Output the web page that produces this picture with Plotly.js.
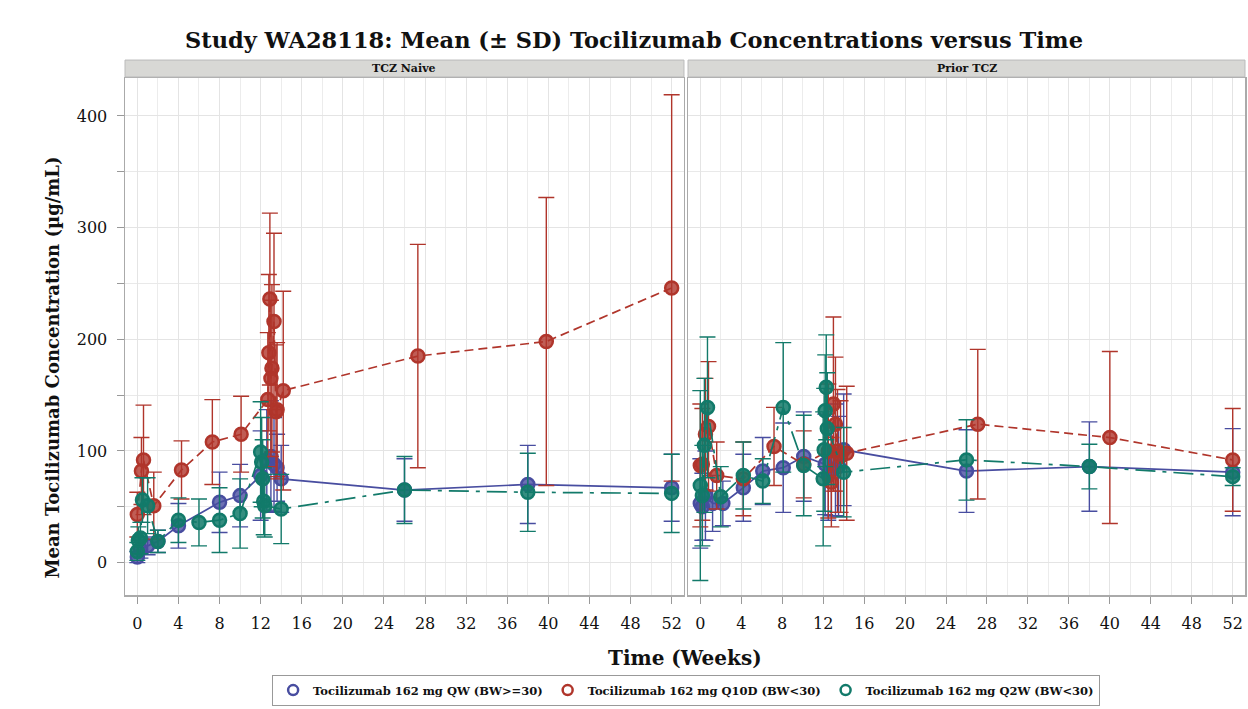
<!DOCTYPE html>
<html><head><meta charset="utf-8">
<script src="https://cdn.plot.ly/plotly-3.0.1.min.js"></script>
<style>html,body{margin:0;padding:0;background:#fff}#chart{width:1248px;height:709px}</style>
</head><body><div id="chart"></div>
<script>
// ---- Data ----
const panelNames = ["TCZ Naive", "Prior TCZ"];
const seriesNames = ["Tocilizumab 162 mg QW (BW>=30)", "Tocilizumab 162 mg Q10D (BW<30)", "Tocilizumab 162 mg Q2W (BW<30)"];

// TCZ Naive
const naiveQW_x  = [0, 0.3, 1, 2, 4, 8, 10, 12, 12.6, 13, 13.3, 13.6, 14, 26, 38, 52];
const naiveQW_y  = [5, 12, 15, 19, 33, 54, 60, 78, 92, 95, 88, 85, 75, 65, 70, 67];
const naiveQW_sd = [5, 8, 8, 10, 20, 27, 28, 40, 45, 50, 42, 30, 30, 28, 35, 30];

const naiveQ10D_x  = [0, 0.4, 0.6, 1.6, 4.3, 7.3, 10.1, 12.7, 12.8, 12.9, 13.0, 13.1, 13.3, 13.5, 13.6, 14.2, 27.3, 39.8, 52];
const naiveQ10D_y  = [43, 82, 92, 51, 83, 108, 115, 146, 188, 236, 165, 174, 216, 135, 137, 154, 185, 198, 246];
const naiveQ10D_sd = [20, 30, 49, 30, 26, 38, 34, 60, 70, 77, 70, 75, 79, 60, 60, 89, 100, 129, 173];

const naiveQ2W_x  = [0, 0.1, 0.3, 0.5, 1, 2, 4, 6, 8, 10, 12, 12.1, 12.2, 12.3, 12.4, 14, 26, 38, 52];
const naiveQ2W_y  = [10, 20, 22, 56, 51, 19, 38, 36, 38, 44, 99, 90, 75, 55, 51, 48, 65, 63, 62];
const naiveQ2W_sd = [8, 12, 14, 20, 25, 10, 20, 21, 29, 31, 45, 40, 35, 30, 28, 31, 30, 35, 35];

// Prior TCZ
const priorQW_x  = [0, 0.2, 0.5, 1.2, 2.2, 4.2, 6.1, 8.1, 10.1, 12.2, 12.5, 12.8, 13.2, 13.5, 14, 26, 38, 52];
const priorQW_y  = [53, 50, 60, 53, 53, 67, 82, 85, 95, 88, 78, 82, 92, 86, 101, 82, 86, 81];
const priorQW_sd = [40, 30, 40, 25, 20, 30, 30, 40, 40, 45, 40, 40, 50, 45, 50, 37, 40, 39];

const priorQ10D_x  = [0, 0.2, 0.5, 0.8, 1.6, 4.2, 7.2, 10.1, 12.5, 12.8, 13.0, 13.2, 13.4, 13.7, 14.3, 27.1, 40, 52];
const priorQ10D_y  = [87, 88, 115, 122, 78, 75, 104, 88, 100, 72, 142, 124, 100, 95, 98, 124, 112, 92];
const priorQ10D_sd = [55, 50, 50, 58, 30, 33, 35, 30, 60, 40, 78, 60, 55, 50, 60, 67, 77, 46];

const priorQ2W_x  = [0, 0.2, 0.4, 0.7, 2, 4.2, 6.1, 8.1, 10.1, 12, 12.1, 12.2, 12.3, 12.4, 14, 26, 38, 52];
const priorQ2W_y  = [69, 60, 105, 139, 59, 78, 73, 139, 87, 75, 101, 136, 157, 120, 81, 92, 86, 77];
const priorQ2W_sd = [85, 45, 60, 63, 27, 30, 20, 58, 45, 60, 55, 50, 47, 50, 40, 36, 20, 8];

const xTicks = [0, 4, 8, 12, 16, 20, 24, 28, 32, 36, 40, 44, 48, 52];
const yTicks = [0, 100, 200, 300, 400];

// ---- Styles ----
const colors = ["#484da0", "#b0352b", "#127a6a"];
const fills  = ["rgba(72,77,160,0.8)", "rgba(176,53,43,0.8)", "rgba(18,122,106,0.85)"];
const dashes = ["solid", "9px,5px", "20px,7px,4px,7px"];
const FONT = "DejaVu Serif";

const panels = [
  {xa: "x", ya: "y", data: [[naiveQW_x, naiveQW_y, naiveQW_sd], [naiveQ10D_x, naiveQ10D_y, naiveQ10D_sd], [naiveQ2W_x, naiveQ2W_y, naiveQ2W_sd]]},
  {xa: "x2", ya: "y2", data: [[priorQW_x, priorQW_y, priorQW_sd], [priorQ10D_x, priorQ10D_y, priorQ10D_sd], [priorQ2W_x, priorQ2W_y, priorQ2W_sd]]}
];

const traces = [];
panels.forEach(p => {
  p.data.forEach((d, i) => {
    traces.push({
      type: "scatter", mode: "lines+markers", xaxis: p.xa, yaxis: p.ya,
      x: d[0], y: d[1], showlegend: false, hoverinfo: "x+y",
      error_y: {type: "data", array: d[2], visible: true, color: colors[i], thickness: 1.4, width: 8},
      line: {color: colors[i], width: 1.7, dash: dashes[i]},
      marker: {symbol: "circle", size: 13, color: fills[i], line: {color: colors[i], width: 2.5}}
    });
  });
});
// legend entries
seriesNames.forEach((n, i) => {
  traces.push({type: "scatter", mode: "markers", x: [null], y: [null], name: "<b>" + n + "</b>", xaxis: "x", yaxis: "y",
    marker: {symbol: "circle-open", size: 10, color: colors[i], line: {width: 2.5}}});
});

const xBase = {
  range: [-1.2, 53.2], tickvals: xTicks, ticktext: xTicks.map(String),
  ticks: "outside", ticklen: 7, tickcolor: "#999", tickwidth: 1, ticklabelstandoff: 6,
  showline: true, mirror: true, linecolor: "#aaa", linewidth: 1.5,
  showgrid: true, gridcolor: "#e4e4e4", zeroline: false,
  minor: {dtick: 2, tick0: 0, showgrid: true, gridcolor: "#ececec"},
  tickfont: {family: FONT, size: 16, color: "#111"}
};
const yBase = {
  range: [-29, 434], tickvals: yTicks, ticktext: yTicks.map(String),
  ticks: "outside", ticklen: 7, tickcolor: "#999", ticklabelstandoff: 6,
  showline: true, mirror: true, linecolor: "#aaa", linewidth: 1.5,
  showgrid: true, gridcolor: "#e4e4e4", zeroline: false,
  minor: {dtick: 50, tick0: 0, showgrid: true, gridcolor: "#e9e9e9", ticks: "outside", ticklen: 7, tickcolor: "#999"},
  tickfont: {family: FONT, size: 16, color: "#111"}
};

const layout = {
  width: 1248, height: 709,
  margin: {l: 125, r: 3, t: 78, b: 112},
  paper_bgcolor: "#fff", plot_bgcolor: "#fff",
  font: {family: FONT, color: "#111"},
  title: {text: "<b>Study WA28118: Mean (± SD) Tocilizumab Concentrations versus Time</b>",
          x: 0.508, xanchor: "center", y: 1 - 40/709, yanchor: "middle", yref: "container",
          font: {family: FONT, size: 22.5, color: "#111"}},
  xaxis: Object.assign({}, xBase, {domain: [0, 0.4991], anchor: "y"}),
  xaxis2: Object.assign({}, xBase, {domain: [0.5027, 1], anchor: "y2"}),
  yaxis: Object.assign({}, yBase, {anchor: "x"}),
  yaxis2: Object.assign({}, yBase, {anchor: "x2", showticklabels: false, ticks: "", minor: {dtick: 50, tick0: 0, showgrid: true, gridcolor: "#e9e9e9", ticks: ""}}),
  showlegend: true,
  legend: {orientation: "h", x: 0.501, xanchor: "center", y: -0.154, yanchor: "top",
           bordercolor: "#999", borderwidth: 1, bgcolor: "#fff",
           font: {family: FONT, size: 11.5, color: "#111"}, itemwidth: 30, tracegroupgap: 0},
  shapes: [
    {type: "rect", xref: "x domain", yref: "paper", x0: 0, x1: 1, y0: 1.002, y1: 1.0347, fillcolor: "#d8d8d5", line: {color: "#bbb", width: 1}},
    {type: "rect", xref: "x2 domain", yref: "paper", x0: 0, x1: 1, y0: 1.002, y1: 1.0347, fillcolor: "#d8d8d5", line: {color: "#bbb", width: 1}}
  ],
  annotations: [
    {text: "<b>" + panelNames[0] + "</b>", xref: "x domain", yref: "paper", x: 0.5, y: 1.018, yanchor: "middle", showarrow: false, font: {family: FONT, size: 11, color: "#111"}},
    {text: "<b>" + panelNames[1] + "</b>", xref: "x2 domain", yref: "paper", x: 0.5, y: 1.018, yanchor: "middle", showarrow: false, font: {family: FONT, size: 11, color: "#111"}},
    {text: "<b>Time (Weeks)</b>", xref: "paper", yref: "paper", x: 0.5, y: -0.121, yanchor: "middle", showarrow: false, font: {family: FONT, size: 20, color: "#111"}},
    {text: "<b>Mean Tocilizumab Concentration (µg/mL)</b>", xref: "paper", yref: "paper", x: -0.0759, y: 0.441, textangle: -90, showarrow: false, font: {family: FONT, size: 18, color: "#111"}}
  ]
};

Plotly.newPlot("chart", traces, layout, {displayModeBar: false, staticPlot: true});
</script>
</body></html>
